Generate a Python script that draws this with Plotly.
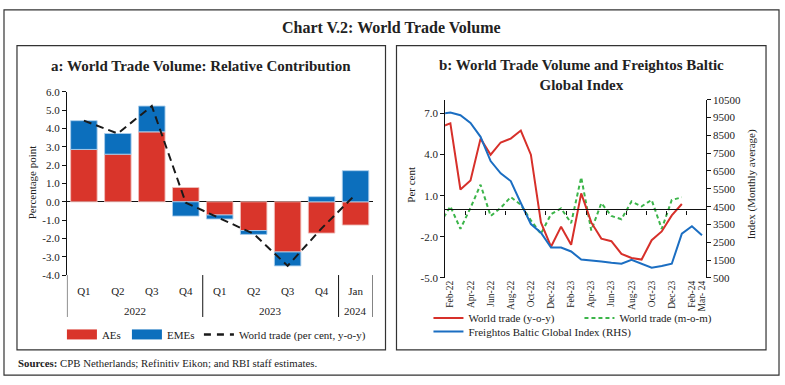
import plotly.graph_objects as go

W, H = 785, 385
FONT = "Liberation Serif"
TXT = "#222222"

# ---------------- Panel a data ----------------
years = ["2022", "2022", "2022", "2022", "2023", "2023", "2023", "2023", "2024"]
quarters = ["Q1", "Q2", "Q3", "Q4", "Q1", "Q2", "Q3", "Q4", "Jan"]
aes = [2.86, 2.60, 3.82, 0.78, -0.72, -1.57, -2.74, -1.71, -1.27]
emes = [1.57, 1.13, 1.41, -0.78, -0.22, -0.21, -0.76, 0.28, 1.70]
world_trade_q = [4.43, 3.73, 5.23, -0.05, -0.90, -1.75, -3.50, -1.45, 0.40]
a_yticks = [6, 5, 4, 3, 2, 1, 0, -1, -2, -3, -4]

# ---------------- Panel b data ----------------
months = ["Jan-22", "Feb-22", "Mar-22", "Apr-22", "May-22", "Jun-22", "Jul-22", "Aug-22",
          "Sep-22", "Oct-22", "Nov-22", "Dec-22", "Jan-23", "Feb-23", "Mar-23", "Apr-23",
          "May-23", "Jun-23", "Jul-23", "Aug-23", "Sep-23", "Oct-23", "Nov-23", "Dec-23",
          "Jan-24", "Feb-24", "Mar-24"]
wt_yoy = [6.00, 6.27, 1.45, 2.11, 5.16, 3.99, 4.88, 5.16, 5.75, 3.99, -0.95, -2.72,
          -1.26, -2.58, 1.17, -0.95, -2.13, -2.32, -3.24, -3.54, -3.66, -2.25, -1.61,
          -0.44, 0.39, None, None]
wt_mom = [-1.00, 0.22, -1.42, 0.11, 1.80, -0.48, 0.11, 0.90, 0.34, -0.80, -1.78, -0.35,
          0.07, -1.00, 2.34, -1.54, 0.46, -0.48, -0.72, 0.58, 0.22, 0.69, -1.42, 0.69,
          0.88, None, None]
fbx = [9700, 9780, 9630, 9196, 8417, 7058, 6370, 5935, 4703, 3525, 3036, 2203, 2203,
       1985, 1532, 1496, 1424, 1351, 1297, 1514, 1315, 1080, 1170, 1297, 2982, 3400, 2892]
b_xlabels = ["Feb-22", "Apr-22", "Jun-22", "Aug-22", "Oct-22", "Dec-22", "Feb-23",
             "Apr-23", "Jun-23", "Aug-23", "Oct-23", "Dec-23", "Feb-24", "Mar-24"]
b_xlabel_text = [m if m != "Mar-24" else "Mar- 24" for m in b_xlabels]
b_left_ticks = [7, 4, 1, -2, -5]
b_right_ticks = [500, 1500, 2500, 3500, 4500, 5500, 6500, 7500, 8500, 9500, 10500]

RED_BAR = "#D9352B"
BLUE_BAR = "#0C6FBD"
RED_LINE = "#D7302A"
BLUE_LINE = "#1B6EC2"
GREEN_LINE = "#3CB54A"


def px(x):
    return x / W


def py(y):
    return 1 - y / H


qi = list(range(len(quarters)))
xi = list(range(len(months)))
a_dom_x = [px(67), px(373)]
a_dom_y = [py(277.7), py(88.7)]
b_dom_x = [px(445.7), px(706.7)]
b_dom_y = [py(280.7), py(96.7)]
b_lrange = [-5, 8]
b_rrange = [500, 10500]
b_xrange = [0.48, 26.38]
zero_pos = b_dom_y[0] + (0 - b_lrange[0]) / (b_lrange[1] - b_lrange[0]) * (b_dom_y[1] - b_dom_y[0])

fig = go.Figure()

# Panel a bars
fig.add_trace(go.Bar(x=qi, y=aes, name="AEs",
                     marker=dict(color=RED_BAR, line=dict(color="rgba(240,190,185,0.9)", width=1)),
                     xaxis="x", yaxis="y", showlegend=False))
fig.add_trace(go.Bar(x=qi, y=emes, name="EMEs",
                     marker=dict(color=BLUE_BAR, line=dict(color="rgba(170,205,235,0.9)", width=1)),
                     xaxis="x", yaxis="y", showlegend=False))
fig.add_trace(go.Scatter(x=qi, y=world_trade_q, mode="lines", name="World trade (per cent, y-o-y)",
                         line=dict(color="#1a1a1a", width=2, dash="8px,5px"), xaxis="x", yaxis="y",
                         showlegend=False))

# Legend-only entries for panel a
fig.add_trace(go.Scatter(x=[None], y=[None], mode="lines", name="AEs", line=dict(color=RED_BAR, width=10),
                         xaxis="x2", yaxis="y2", legend="legend", legendwidth=20))
fig.add_trace(go.Scatter(x=[None], y=[None], mode="lines", name="EMEs", line=dict(color=BLUE_BAR, width=10),
                         xaxis="x2", yaxis="y2", legend="legend", legendwidth=27))
fig.add_trace(go.Scatter(x=[None], y=[None], mode="lines", name="World trade (per cent, y-o-y)",
                         line=dict(color="#1a1a1a", width=2.5, dash="7px,6px"), xaxis="x2", yaxis="y2",
                         legend="legend"))

# Panel b lines
fig.add_trace(go.Scatter(x=xi, y=fbx, mode="lines", name="Freightos Baltic Global Index (RHS)",
                         line=dict(color=BLUE_LINE, width=2), xaxis="x2", yaxis="y3", legend="legend3"))
fig.add_trace(go.Scatter(x=xi, y=wt_mom, mode="lines", name="World trade (m-o-m)",
                         line=dict(color=GREEN_LINE, width=2, dash="4px,3px"), xaxis="x2", yaxis="y2",
                         legend="legend2"))
fig.add_trace(go.Scatter(x=xi, y=wt_yoy, mode="lines", name="World trade (y-o-y)",
                         line=dict(color=RED_LINE, width=2), xaxis="x2", yaxis="y2", legend="legend2",
                         legendwidth=106, legendrank=1))
# carrier for zero-line axis
fig.add_trace(go.Scatter(x=[xi[1]], y=[0], mode="markers", marker=dict(opacity=0), xaxis="x3", yaxis="y2",
                         showlegend=False, hoverinfo="skip"))

tickfont = dict(family=FONT, size=11, color=TXT)

fig.update_layout(
    width=W, height=H, autosize=False,
    margin=dict(l=0, r=0, t=0, b=0),
    paper_bgcolor="white", plot_bgcolor="white",
    font=dict(family=FONT, color=TXT, size=11),
    barmode="relative", bargap=0.22,
    xaxis=dict(domain=a_dom_x, anchor="y", range=[-0.5, len(quarters) - 0.5], tickvals=qi, ticktext=quarters,
               ticks="", ticklabelstandoff=8, showline=False, showgrid=False, zeroline=False, tickfont=tickfont),
    yaxis=dict(domain=a_dom_y, anchor="x", range=[-4, 6], tickvals=a_yticks,
               ticktext=[f"{v:.1f}" for v in a_yticks], showline=True,
               linecolor="#111111", linewidth=1, ticks="outside", ticklen=4, tickcolor="#111111",
               showgrid=False, zeroline=True, zerolinecolor="#111111", zerolinewidth=1.3, tickfont=tickfont),
    xaxis2=dict(domain=b_dom_x, anchor="y2", range=b_xrange, tickvals=[months.index(m) for m in b_xlabels],
                ticktext=b_xlabel_text, tickangle=-90, ticks="", showline=False, showgrid=False, zeroline=False,
                tickfont=dict(family=FONT, size=9.5, color=TXT)),
    xaxis3=dict(overlaying="x2", anchor="free", position=zero_pos, range=b_xrange,
                tickvals=[i + 0.5 for i in range(2, 25, 2)], ticks="outside", ticklen=4, tickcolor="#111111",
                showticklabels=False, showline=True, linecolor="#111111", linewidth=1.3, showgrid=False,
                zeroline=False),
    yaxis2=dict(domain=b_dom_y, anchor="x2", range=b_lrange, tickvals=b_left_ticks,
                ticktext=[f"{v:.1f}" for v in b_left_ticks],
                showline=True, linecolor="#111111", linewidth=1, ticks="outside", ticklen=4, tickcolor="#111111",
                showgrid=False, zeroline=False, tickfont=tickfont),
    yaxis3=dict(overlaying="y2", side="right", anchor="x2", range=b_rrange, tickvals=b_right_ticks,
                ticktext=[str(v) for v in b_right_ticks],
                showline=True, linecolor="#111111", linewidth=1, ticks="outside", ticklen=4, tickcolor="#111111",
                showgrid=False, zeroline=False, tickfont=tickfont),
    legend=dict(orientation="h", x=px(62), xanchor="left", y=py(339), yanchor="middle", bgcolor="rgba(0,0,0,0)",
                font=dict(family=FONT, size=11, color=TXT), itemwidth=30),
    legend2=dict(orientation="h", x=px(429), xanchor="left", y=py(322), yanchor="middle",
                 bgcolor="rgba(0,0,0,0)", font=dict(family=FONT, size=11, color=TXT), itemwidth=30,
                 traceorder="normal"),
    legend3=dict(orientation="h", x=px(429), xanchor="left", y=py(336), yanchor="middle",
                 bgcolor="rgba(0,0,0,0)", font=dict(family=FONT, size=11, color=TXT), itemwidth=30),
    showlegend=True,
)

line_col = "#333333"
shapes = [
    dict(type="rect", xref="paper", yref="paper", x0=px(4), x1=px(780), y0=py(381), y1=py(4),
         line=dict(color=line_col, width=1.2)),
    dict(type="rect", xref="paper", yref="paper", x0=px(17), x1=px(386), y0=py(355), y1=py(41),
         line=dict(color=line_col, width=1.2)),
    dict(type="rect", xref="paper", yref="paper", x0=px(397), x1=px(767), y0=py(355), y1=py(41),
         line=dict(color=line_col, width=1.2)),
]

# Year group dividers and labels for panel a (derived from the category data)
groups = []
for i, yr in enumerate(years):
    if not groups or groups[-1][0] != yr:
        groups.append([yr, i, i])
    else:
        groups[-1][2] = i
div_pos = [groups[0][1] - 0.5] + [g[2] + 0.5 for g in groups]
for d in div_pos:
    shapes.append(dict(type="line", xref="x", yref="paper", x0=d, x1=d, y0=py(321), y1=a_dom_y[0],
                       line=dict(color="#111111", width=1)))
fig.update_layout(shapes=shapes)

annotations = [
    dict(text="<b>Chart V.2: World Trade Volume</b>", x=px(392), y=py(22), font=dict(size=16)),
    dict(text="<b>a: World Trade Volume: Relative Contribution</b>", x=px(201), y=py(62), font=dict(size=15)),
    dict(text="<b>b: World Trade Volume and Freightos Baltic<br>Global Index</b>", x=px(582), y=py(71),
         font=dict(size=15)),
    dict(text="Percentage point", x=px(32), y=py(182), textangle=-90, font=dict(size=11)),
    dict(text="Per cent", x=px(412), y=py(184), textangle=-90, font=dict(size=11)),
    dict(text="Index (Monthly average)", x=px(752), y=py(184), textangle=-90, font=dict(size=11)),
    dict(text="<b>Sources:</b> CPB Netherlands; Refinitiv Eikon; and RBI staff estimates.", x=px(16), y=py(368),
         xanchor="left", font=dict(size=10.8)),
]
for a in annotations:
    a.setdefault("xanchor", "center")
    a.update(xref="paper", yref="paper", yanchor="middle", showarrow=False)
    a["font"] = dict(family=FONT, color=TXT, **a["font"])
for yr, i0, i1 in groups:
    annotations.append(dict(text=yr, x=(i0 + i1) / 2, xref="x", y=py(315), yref="paper", xanchor="center",
                            yanchor="middle", showarrow=False, font=dict(family=FONT, size=11, color=TXT)))
fig.update_layout(annotations=annotations)

fig.write_html("out.html", config={"displayModeBar": False},
               post_script="document.body.style.margin='0';")
